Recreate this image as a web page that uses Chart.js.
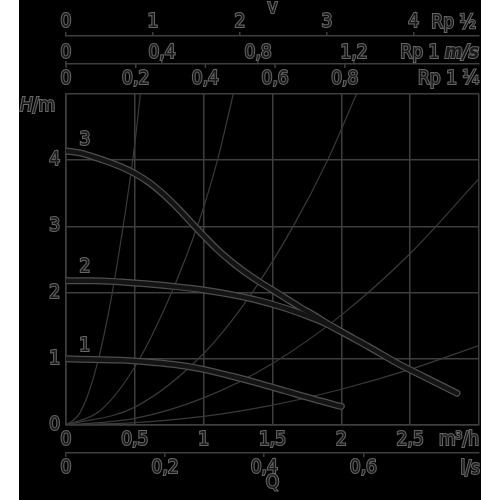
<!DOCTYPE html>
<html>
<head>
<meta charset="utf-8">
<script src="https://cdn.jsdelivr.net/npm/chart.js@4.4.1/dist/chart.umd.min.js"></script>
<style>
  html, body { margin: 0; padding: 0; background: #fff; }
  #wrap { position: relative; width: 500px; height: 500px; }
  #panel { position: absolute; left: 19px; top: 0; width: 462px; height: 500px; background: #000; }
  #c { position: absolute; left: 0; top: 0; }
</style>
</head>
<body>
<div id="wrap"><div id="panel"></div><canvas id="c" width="500" height="500"></canvas></div>
<script>
// --- pump curve: H over Q, three speed stages ---
const GRID = '#3e3e3e';
const THIN = '#3a3a3a';
const TXT_FILL = '#181818';
const TXT_EDGE = '#666';
const FONT = "'DejaVu Sans Condensed', 'Liberation Sans Narrow', 'DejaVu Sans', sans-serif";

// Q in m3/h, H in m
const q_stage3 = [0, 0.1, 0.2, 0.3, 0.4, 0.5, 0.6, 0.7, 0.8, 0.9, 1.0, 1.1, 1.2, 1.3, 1.4, 1.5, 1.6, 1.7, 1.8, 1.9, 2.0, 2.2, 2.4, 2.6, 2.84];
const h_stage3 = [4.14, 4.11, 4.05, 3.98, 3.9, 3.8, 3.67, 3.5, 3.3, 3.08, 2.86, 2.65, 2.47, 2.31, 2.17, 2.04, 1.91, 1.78, 1.66, 1.53, 1.41, 1.18, 0.94, 0.73, 0.48];
const q_stage2 = [0, 0.2, 0.4, 0.6, 0.8, 1.0, 1.2, 1.4, 1.6, 1.8, 1.9, 2.0];
const h_stage2 = [2.18, 2.18, 2.16, 2.13, 2.09, 2.04, 1.97, 1.88, 1.76, 1.61, 1.52, 1.41];
const q_stage1 = [0, 0.2, 0.4, 0.6, 0.8, 1.0, 1.2, 1.4, 1.6, 1.8, 2.0];
const h_stage1 = [1.0, 0.99, 0.98, 0.95, 0.91, 0.84, 0.74, 0.63, 0.51, 0.39, 0.28];

// thin system curves from the origin
const q_sys1 = [0, 0.1, 0.2, 0.3, 0.4, 0.5, 0.54];
const h_sys1 = [0, 0.18, 0.72, 1.6, 2.8, 4.25, 5.0];
const q_sys2 = [0, 0.25, 0.5, 0.75, 0.97, 1.1, 1.215];
const h_sys2 = [0, 0.22, 0.88, 1.92, 3.1, 4.0, 5.0];
const q_sys3 = [0, 0.5, 1.0, 1.336, 1.65, 1.9, 2.11];
const h_sys3 = [0, 0.27, 1.08, 1.95, 3.0, 4.0, 5.0];
const q_sys4 = [0, 0.5, 1.0, 1.5, 2.0, 2.5, 3.0];
const h_sys4 = [0, 0.1, 0.41, 0.93, 1.66, 2.59, 3.72];
const q_sys5 = [0, 0.5, 1.0, 1.5, 2.0, 2.5, 3.0];
const h_sys5 = [0, 0.035, 0.13, 0.3, 0.54, 0.84, 1.2];

// stage tags
const tag_text = ['1', '2', '3'];
const tag_q = [0.135, 0.138, 0.138];
const tag_h = [1.19, 2.38, 4.3];

// axes: tick values, and the value sitting at the right plot edge
const q_max = 3, h_max = 5;
const ticks_q = [0, 0.5, 1, 1.5, 2, 2.5, 3];
const ticks_h = [0, 1, 2, 3, 4, 5];
const ticks_ls = [0, 0.2, 0.4, 0.6];       const ls_max = 0.8333;
const ticks_rp12 = [0, 1, 2, 3, 4];         const rp12_max = 4.75;
const ticks_rp1 = [0, 0.4, 0.8, 1.2];       const rp1_max = 1.72;
const ticks_rp114 = [0, 0.2, 0.4, 0.6, 0.8]; const rp114_max = 1.185;

function fmt(v) { return String(Math.round(v * 100) / 100).replace('.', ','); }
function pts(qs, hs) { return qs.map((q, i) => ({ x: q, y: hs[i] })); }

const sysSets = [[q_sys1, h_sys1], [q_sys2, h_sys2], [q_sys3, h_sys3], [q_sys4, h_sys4], [q_sys5, h_sys5]]
  .map(([q, h]) => ({ data: pts(q, h), showLine: true, borderColor: THIN, borderWidth: 1.2, pointRadius: 0,
    cubicInterpolationMode: 'monotone', order: 3 }));
const stages = [[q_stage1, h_stage1], [q_stage2, h_stage2], [q_stage3, h_stage3]];
const outerSets = stages.map(([q, h]) => ({ data: pts(q, h), showLine: true, borderColor: '#4e4e4e', borderWidth: 7,
  borderCapStyle: 'round', pointRadius: 0, cubicInterpolationMode: 'monotone', order: 2 }));
const innerSets = stages.map(([q, h]) => ({ data: pts(q, h), showLine: true, borderColor: '#141414', borderWidth: 4.5,
  borderCapStyle: 'round', pointRadius: 0, cubicInterpolationMode: 'monotone', order: 1 }));

const tickFont = { family: FONT, size: 19, lineHeight: 1 };
function tickOpts(extra) {
  return Object.assign({ color: TXT_FILL, font: tickFont, textStrokeColor: TXT_EDGE, textStrokeWidth: 2, maxRotation: 0, autoSkip: false }, extra);
}
function useTicks(list) { return s => { s.ticks = list.map(v => ({ value: v })); }; }

function txt(ctx, s, x, y, font, align) {
  ctx.font = font; ctx.textAlign = align; ctx.textBaseline = 'middle';
  ctx.lineWidth = 2; ctx.strokeStyle = TXT_EDGE; ctx.fillStyle = TXT_FILL;
  ctx.strokeText(s, x, y); ctx.fillText(s, x, y);
}

const labelsPlugin = {
  id: 'sheetLabels',
  afterDraw(chart) {
    const { ctx, chartArea: a, scales } = chart;
    const f = '19px ' + FONT;
    ctx.save();
    // small ticks of the Rp 1 1/4 scale hang from the Rp 1 line
    const s3 = scales.rp114;
    ctx.strokeStyle = GRID; ctx.lineWidth = 1.5;
    ticks_rp114.forEach(v => {
      const x = s3.getPixelForValue(v);
      ctx.beginPath(); ctx.moveTo(x, s3.top); ctx.lineTo(x, s3.top + 4); ctx.stroke();
    });
    const cx = (a.left + a.right) / 2;
    txt(ctx, 'v', cx, 8, f, 'center');
    txt(ctx, 'Rp ½', a.right - 3, 23, f, 'right');
    // "Rp 1 m/s" with bold italic unit
    ctx.font = 'italic bold 19px ' + FONT;
    const wUnit = ctx.measureText('m/s').width;
    txt(ctx, 'm/s', a.right, 53.5, 'italic bold 19px ' + FONT, 'right');
    txt(ctx, 'Rp 1 ', a.right - wUnit, 53.5, f, 'right');
    txt(ctx, 'Rp 1 ¼', a.right, 79, f, 'right');
    txt(ctx, 'm³/h', a.right, 440, f, 'right');
    txt(ctx, 'l/s', a.right + 1, 469, f, 'right');
    txt(ctx, 'Q', cx, 483, f, 'center');
    ctx.font = 'italic 19px ' + FONT;
    const wH = ctx.measureText('H').width;
    txt(ctx, 'H', 20, 106, 'italic 19px ' + FONT, 'left');
    txt(ctx, '/m', 20 + wH, 106, f, 'left');
    tag_text.forEach((t, i) => {
      txt(ctx, t, scales.x.getPixelForValue(tag_q[i]), scales.y.getPixelForValue(tag_h[i]), f, 'center');
    });
    ctx.restore();
  }
};

new Chart(document.getElementById('c'), {
  type: 'scatter',
  data: { datasets: [...innerSets, ...outerSets, ...sysSets] },
  options: {
    responsive: false,
    animation: false,
    layout: { padding: { left: 0, right: 21, top: 0, bottom: 0 } },
    plugins: { legend: { display: false }, tooltip: { enabled: false } },
    scales: {
      x: {
        type: 'linear', position: 'bottom', min: 0, max: q_max, weight: 1,
        afterBuildTicks: useTicks(ticks_q),
        afterFit: s => { s.height = 28; },
        ticks: tickOpts({ padding: 6, callback: v => v >= q_max ? '' : fmt(v) }),
        grid: { color: GRID, lineWidth: 1.5, drawTicks: false },
        border: { color: GRID, width: 1.5 }
      },
      ls: {
        type: 'linear', position: 'bottom', min: 0, max: ls_max, weight: 2,
        afterBuildTicks: useTicks(ticks_ls),
        afterFit: s => { s.height = 47; },
        ticks: tickOpts({ padding: 2, callback: v => fmt(v) }),
        grid: { drawOnChartArea: false, color: GRID, lineWidth: 1.5, tickLength: 4 },
        border: { color: GRID, width: 1.5 }
      },
      y: {
        type: 'linear', position: 'left', min: 0, max: h_max,
        afterBuildTicks: useTicks(ticks_h),
        afterFit: s => { s.width = 66; },
        ticks: tickOpts({ padding: 6, callback: v => v >= h_max ? '' : fmt(v) }),
        grid: { color: GRID, lineWidth: 1.5, drawTicks: false },
        border: { color: GRID, width: 1.5 }
      },
      rp114: {
        type: 'linear', position: 'top', min: 0, max: rp114_max, weight: 1,
        afterBuildTicks: useTicks(ticks_rp114),
        afterFit: s => { s.height = 30; },
        ticks: tickOpts({ padding: 5.5, callback: v => fmt(v) }),
        grid: { drawOnChartArea: false, drawTicks: false },
        border: { display: false }
      },
      rp1: {
        type: 'linear', position: 'top', min: 0, max: rp1_max, weight: 2,
        afterBuildTicks: useTicks(ticks_rp1),
        afterFit: s => { s.height = 28; },
        ticks: tickOpts({ padding: -2, callback: v => fmt(v) }),
        grid: { drawOnChartArea: false, color: GRID, lineWidth: 1.5, tickLength: 3 },
        border: { color: GRID, width: 1.5 }
      },
      rp12: {
        type: 'linear', position: 'top', min: 0, max: rp12_max, weight: 3,
        afterBuildTicks: useTicks(ticks_rp12),
        afterFit: s => { s.height = 36; },
        ticks: tickOpts({ padding: 0, callback: v => fmt(v) }),
        grid: { drawOnChartArea: false, color: GRID, lineWidth: 1.5, tickLength: 4 },
        border: { color: GRID, width: 1.5 }
      }
    }
  },
  plugins: [labelsPlugin]
});
</script>
</body>
</html>
